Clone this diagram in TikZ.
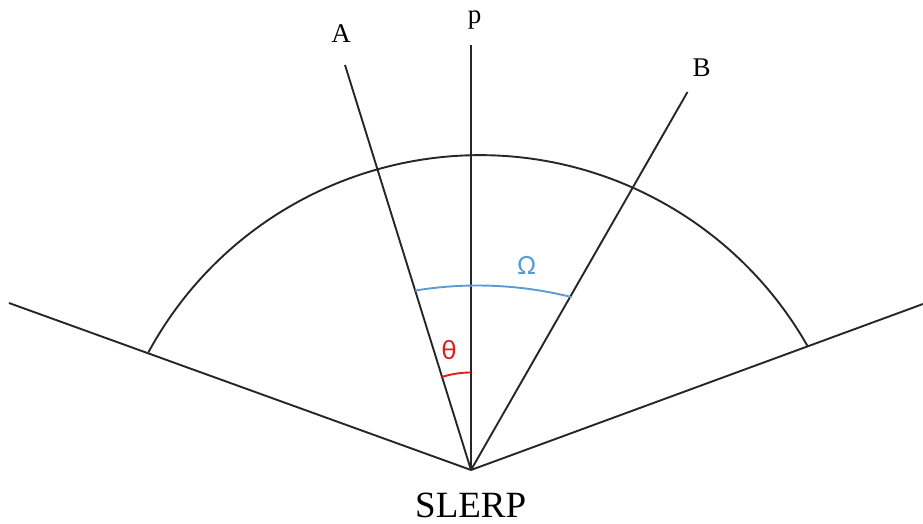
\documentclass[tikz,border=0pt]{standalone}
\usepackage{fontspec}
\setmainfont{Liberation Serif}
\newfontfamily\greekfont{Carlito}
\definecolor{omegablue}{RGB}{91,155,213}
\definecolor{thetared}{RGB}{220,30,30}
\begin{document}
\begin{tikzpicture}[x=1pt,y=1pt,
  ray/.style={line width=1.9pt,black!85},
  lbl/.style={inner sep=0pt,font=\fontsize{27}{27}\selectfont},
  glbl/.style={inner sep=0pt,font=\greekfont\fontsize{28}{28}\selectfont}]
\useasboundingbox (0,0) rectangle (923,524);
% points
\coordinate (O) at (471,54);
\coordinate (Aend) at (345,459);
\coordinate (Pend) at (471,479);
\coordinate (Bend) at (687.5,432);
\coordinate (Lend) at (9,221);
\coordinate (Rend) at (923,220);
\coordinate (bigC) at (479.7,-8.2);
\coordinate (omC) at (477.4,-149.5);
% rays
\draw[ray] (O) -- (Lend);
\draw[ray] (O) -- (Rend);
\draw[ray] (O) -- (Aend);
\draw[ray] (O) -- (Pend);
\draw[ray] (O) -- (Bend);
% big arc
\draw[ray] ([shift={(151.5:377)}]bigC) arc[start angle=151.5, end angle=29.5, radius=377];
% omega arc
\draw[omegablue, line width=1.9pt] ([shift={(99.26:388)}]omC) arc[start angle=99.26, end angle=75.93, radius=388];
% theta arc
\draw[thetared, line width=1.9pt] ([shift={(90:97.5)}]O) arc[start angle=90, end angle=107.3, radius=97.5];
% labels
\node[lbl] (labA) at (341,490.3) {A};
\node[lbl] (labP) at (474.7,504) {p};
\node[lbl] (labB) at (701.7,456) {B};
\node[inner sep=0pt,font=\fontsize{37}{37}\selectfont] (slerp) at (470.7,19) {SLERP};
\node[glbl,text=omegablue] (omega) at (526.7,259) {Ω};
\node[glbl,text=thetared] (theta) at (449,173.5) {θ};
\end{tikzpicture}
\end{document}
